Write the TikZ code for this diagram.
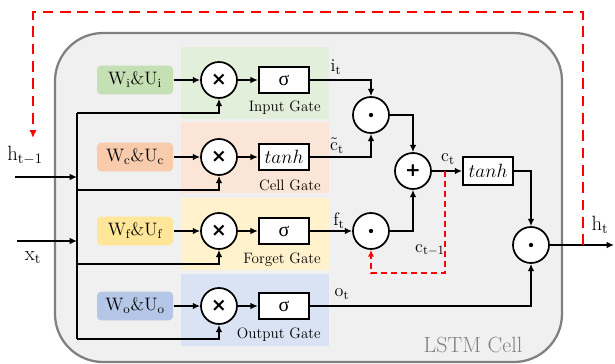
\documentclass[tikz,border=0pt]{standalone}
\usepackage{fontspec}
\usepackage{amsmath}
\usetikzlibrary{arrows.meta}
\newfontfamily\grkfont{Liberation Serif}
\newfontfamily\opfont{DejaVu Sans}
\definecolor{cellgray}{HTML}{F0F0F0}
\definecolor{bordergray}{HTML}{808080}
\definecolor{bgG}{HTML}{E2EFDA}
\definecolor{bgO}{HTML}{FBE5D6}
\definecolor{bgY}{HTML}{FFF2CC}
\definecolor{bgB}{HTML}{DAE3F3}
\definecolor{wuG}{HTML}{C5E0B4}
\definecolor{wuO}{HTML}{F8CBAD}
\definecolor{wuY}{HTML}{FFE699}
\definecolor{wuB}{HTML}{B4C7E7}
\definecolor{lstmred}{HTML}{FF0000}
\begin{document}
\begin{tikzpicture}[x=0.75pt,y=-0.75pt,
  line width=1.3pt,
  arr/.style={-{Latex[length=5.5pt,width=5pt]}},
  wu/.style={rounded corners=3pt, minimum width=57pt, minimum height=21.5pt, inner sep=0pt, font=\fontsize{13.5}{13.5}\selectfont},
  op/.style={circle, draw, fill=white, minimum size=27pt, inner sep=0pt, font=\opfont\bfseries\fontsize{14}{14}\selectfont},
  act/.style={draw, fill=white, minimum width=38pt, minimum height=19.5pt, inner sep=0pt, font=\fontsize{15}{15}\selectfont},
  glabel/.style={anchor=east, font=\fontsize{11.3}{11.3}\selectfont},
  vlabel/.style={font=\fontsize{13.5}{13.5}\selectfont},
  biglabel/.style={font=\fontsize{15.5}{15.5}\selectfont},
  reddash/.style={draw=lstmred, dash pattern=on 8pt off 5pt, line width=1.9pt},
  reddashthin/.style={draw=lstmred, dash pattern=on 4.5pt off 3pt, line width=1.3pt}
]
\useasboundingbox (0,0) rectangle (615,364);
% cell
\draw[fill=cellgray, draw=bordergray, line width=1.7pt, rounded corners=36pt] (55,33) rectangle (562,362);
% gate backgrounds
\fill[bgG] (181,47) rectangle (329,119);
\fill[bgO] (181,122) rectangle (329,193);
\fill[bgY] (181,198) rectangle (329,270);
\fill[bgB] (181,274) rectangle (329,346);
% W&U boxes
\node[wu, fill=wuG] (wi) at (135,80) {$\mathrm{W_i\&U_i}$};
\node[wu, fill=wuO] (wc) at (135,157) {$\mathrm{W_c\&U_c}$};
\node[wu, fill=wuY] (wf) at (135,231) {$\mathrm{W_f\&U_f}$};
\node[wu, fill=wuB] (wo) at (135,306) {$\mathrm{W_o\&U_o}$};
% multiply circles
\node[op] (mi) at (219,80) {×};
\node[op] (mc) at (219,157) {×};
\node[op] (mf) at (219,231) {×};
\node[op] (mo) at (219,306) {×};
% activations
\node[act] (si) at (284,80) {\grkfont σ};
\node[act] (tc) at (284,157) {$tanh$};
\node[act] (sf) at (284,231) {\grkfont σ};
\node[act] (so) at (284,306) {\grkfont σ};
% gate labels
\node[glabel] (li) at (326,108) {Input Gate};
\node[glabel] (lc) at (326,185) {Cell Gate};
\node[glabel] (lf) at (326,260) {Forget Gate};
\node[glabel] (lo) at (326,335) {Output Gate};
% ops
\node[op] (dic) at (371,115) {};
\node[op] (plus) at (413,171) {+};
\node[op] (df) at (371,231) {};
\node[act, minimum width=37.5pt, minimum height=21pt] (th) at (488,171) {$tanh$};
\node[op] (dout) at (531,245) {};
\foreach \n in {dic,df,dout} \fill (\n) circle (1.6pt);
% bus
\coordinate (bt) at (77,113);
\coordinate (bc) at (77,190);
\coordinate (bf) at (77,264);
\coordinate (bo) at (77,339);
\draw (bt) -- (bo);
\draw[arr] (bt) -| (mi.south);
\draw[arr] (bc) -| (mc.south);
\draw[arr] (bf) -| (mf.south);
\draw[arr] (bo) -| (mo.south);
% inputs
\coordinate (hin) at (15,177);
\coordinate (hbus) at (77,177);
\coordinate (xin) at (17,241);
\coordinate (xbus) at (77,241);
\draw[arr] (hin) -- (hbus);
\draw[arr] (xin) -- (xbus);
\node[biglabel] (hlab) at (25,155) {$\mathrm{h_{t-1}}$};
\node[biglabel] (xlab) at (33,258) {$\mathrm{x_t}$};
% gate chains
\foreach \a/\b/\c in {wi/mi/si, wc/mc/tc, wf/mf/sf, wo/mo/so} {
  \draw[arr] (\a) -- (\b);
  \draw[arr] (\b) -- (\c);
}
\draw[arr] (si.east) -| (dic.north);
\draw[arr] (tc.east) -| (dic.south);
\draw[arr] (dic.east) -| (plus.north);
\draw[arr] (sf.east) -- (df.west);
\draw[arr] (df.east) -| (plus.south);
\draw[arr] (plus.east) -- (th.west);
\draw[arr] (th.east) -| (dout.north);
\draw[arr] (so.east) -| (dout.south);
\coordinate (hout) at (614,245);
\draw[arr] (dout.east) -- (hout);
% value labels
\node[vlabel] (lit) at (336,67) {$\mathrm{i_t}$};
\node[vlabel] (lct) at (337,146) {$\tilde{\mathrm{c}}_\mathrm{t}$};
\node[vlabel] (lft) at (339,221) {$\mathrm{f_t}$};
\node[vlabel] (lcc) at (448,159) {$\mathrm{c_t}$};
\node[vlabel] (lcp) at (430,250) {$\mathrm{c_{t-1}}$};
\node[vlabel] (lot) at (342,294) {$\mathrm{o_t}$};
\node[biglabel] (hlt) at (600,225) {$\mathrm{h_t}$};
% red feedback
\coordinate (r1) at (583,245);
\coordinate (r2) at (583,12);
\coordinate (r3) at (33,12);
\coordinate (r4) at (33,138);
\draw[reddash, -{Latex[length=6pt,width=5.5pt,fill=lstmred]}] (r1) -- (r2) -- (r3) -- (r4);
\coordinate (ca) at (445,171);
\coordinate (cb) at (445,273);
\draw[reddashthin, -{Latex[length=5pt,width=4.5pt,fill=lstmred]}] (ca) -- (cb) -| (df.south);
% cell label
\node[font=\fontsize{16.5}{16.5}\selectfont, text=bordergray] (cell) at (473,345) {LSTM Cell};
\end{tikzpicture}
\end{document}
